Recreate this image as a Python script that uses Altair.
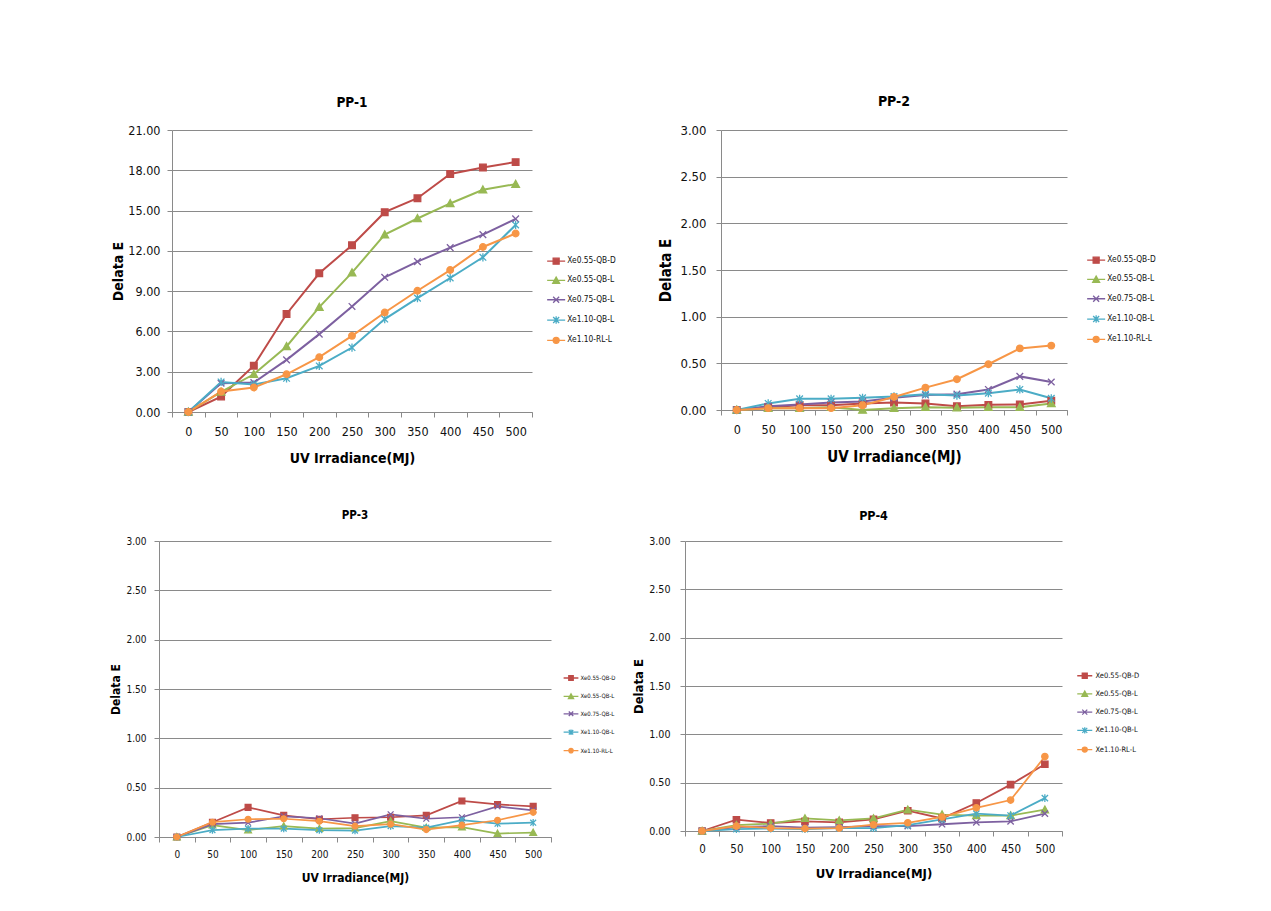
import altair as alt
import pandas as pd

X_VALUES = [0, 50, 100, 150, 200, 250, 300, 350, 400, 450, 500]
SERIES = ["Xe0.55-QB-D", "Xe0.55-QB-L", "Xe0.75-QB-L", "Xe1.10-QB-L", "Xe1.10-RL-L"]
COLORS = ["#BE4B48", "#98B954", "#7D60A0", "#4BACC6", "#F79646"]

# PP-1
PP1_D055 = [0, 1.15, 3.45, 7.3, 10.33, 12.42, 14.88, 15.92, 17.72, 18.21, 18.61]
PP1_L055 = [0, 1.5, 2.81, 4.88, 7.81, 10.38, 13.21, 14.41, 15.53, 16.55, 16.97]
PP1_L075 = [0, 2.14, 2.19, 3.88, 5.8, 7.86, 10.03, 11.2, 12.24, 13.21, 14.38]
PP1_QB110 = [0, 2.24, 2.05, 2.51, 3.43, 4.8, 6.92, 8.48, 9.98, 11.52, 13.93]
PP1_RL110 = [0, 1.52, 1.82, 2.81, 4.08, 5.67, 7.41, 9.03, 10.57, 12.29, 13.29]
# PP-2
PP2_D055 = [0, 0.03, 0.05, 0.05, 0.07, 0.08, 0.07, 0.04, 0.055, 0.06, 0.10]
PP2_L055 = [0, 0.02, 0.02, 0.03, 0.0, 0.02, 0.03, 0.025, 0.03, 0.03, 0.07]
PP2_L075 = [0, 0.04, 0.06, 0.08, 0.09, 0.13, 0.16, 0.17, 0.22, 0.36, 0.30]
PP2_QB110 = [0, 0.07, 0.12, 0.12, 0.13, 0.145, 0.17, 0.155, 0.18, 0.22, 0.125]
PP2_RL110 = [0, 0.02, 0.02, 0.02, 0.05, 0.14, 0.24, 0.33, 0.49, 0.66, 0.69]
# PP-3
PP3_D055 = [0, 0.15, 0.30, 0.22, 0.18, 0.195, 0.20, 0.22, 0.365, 0.33, 0.31]
PP3_L055 = [0, 0.12, 0.07, 0.11, 0.085, 0.09, 0.16, 0.095, 0.10, 0.035, 0.045]
PP3_L075 = [0, 0.13, 0.145, 0.21, 0.19, 0.135, 0.23, 0.185, 0.20, 0.31, 0.27]
PP3_QB110 = [0, 0.07, 0.085, 0.085, 0.07, 0.065, 0.11, 0.095, 0.17, 0.135, 0.145]
PP3_RL110 = [0, 0.15, 0.18, 0.185, 0.16, 0.11, 0.13, 0.075, 0.12, 0.17, 0.25]
# PP-4
PP4_D055 = [0, 0.117, 0.083, 0.10, 0.09, 0.12, 0.21, 0.13, 0.29, 0.48, 0.69]
PP4_L055 = [0, 0.06, 0.076, 0.13, 0.11, 0.13, 0.22, 0.17, 0.16, 0.16, 0.22]
PP4_L075 = [0, 0.04, 0.05, 0.035, 0.04, 0.05, 0.05, 0.07, 0.09, 0.10, 0.18]
PP4_QB110 = [0, 0.02, 0.025, 0.02, 0.03, 0.03, 0.06, 0.12, 0.18, 0.16, 0.34]
PP4_RL110 = [0, 0.05, 0.03, 0.025, 0.03, 0.065, 0.085, 0.145, 0.24, 0.32, 0.77]

Y_TICKS_PP1 = [0, 3, 6, 9, 12, 15, 18, 21]
Y_TICKS_SMALL = [0, 0.5, 1.0, 1.5, 2.0, 2.5, 3.0]

FONT = "DejaVu Sans Condensed, Liberation Sans Narrow, Roboto, sans-serif"
GRID = "#8a8a8a"

MARKERS = [
    "M-1,-1L1,-1L1,1L-1,1Z",
    "M0,-1.15L1.15,0.95L-1.15,0.95Z",
    "M-1,-1L1,1M-1,1L1,-1",
    "M-1,-1L1,1M-1,1L1,-1M0,-1.25L0,1.25",
    "M1,0A1,1,0,1,1,-1,0A1,1,0,1,1,1,0Z",
]


def legend_paths(half):
    line = "M-%s,0L%s,0" % (half, half)
    return [line + m for m in MARKERS]


def panel(title, values, y_ticks, w, h, cfg):
    rows = []
    for s, arr in zip(SERIES, values):
        for i, (xv, yv) in enumerate(zip(X_VALUES, arr)):
            rows.append({"x": str(xv), "xi": i, "y": yv, "series": s})
    df = pd.DataFrame(rows)

    xenc = alt.X(
        "x:O",
        sort=[str(v) for v in X_VALUES],
        scale=alt.Scale(type="band", paddingInner=0, paddingOuter=0),
        axis=alt.Axis(
            title="UV Irradiance(MJ)", labelAngle=0, tickBand="extent", grid=False,
            domainColor=GRID, tickColor=GRID, tickSize=5, labelFont=FONT,
            labelFontSize=cfg["xfs"], labelColor="#111111", labelPadding=cfg["xlp"],
            titleFont=FONT, titleFontSize=cfg["tfs"], titleFontWeight="bold",
            titleColor="#000000", titlePadding=cfg["xtp"],
        ),
    )
    yenc = alt.Y(
        "y:Q",
        scale=alt.Scale(domain=[y_ticks[0], y_ticks[-1]], nice=False, zero=True),
        axis=alt.Axis(
            title="Delata E", values=y_ticks, format=".2f", grid=True, gridColor=GRID,
            domainColor=GRID, tickColor=GRID, tickSize=5, labelFont=FONT,
            labelFontSize=cfg["yfs"], labelColor="#111111", labelPadding=cfg["ylp"],
            titleFont=FONT, titleFontSize=cfg["tfs"], titleFontWeight="bold",
            titleColor="#000000", titlePadding=cfg["ytp"],
        ),
    )
    cscale = alt.Scale(domain=SERIES, range=COLORS)

    lines = alt.Chart(df).mark_line(strokeWidth=cfg["lw"]).encode(
        x=xenc, y=yenc,
        color=alt.Color("series:N", scale=cscale, legend=None),
        order=alt.Order("xi:Q"),
    )
    points = alt.Chart(df).mark_point(
        filled=True, size=cfg["ms"], strokeWidth=1.3, opacity=1
    ).encode(
        x=xenc, y=yenc,
        fill=alt.Fill("series:N", scale=cscale, legend=None),
        stroke=alt.Stroke("series:N", scale=cscale, legend=None),
        shape=alt.Shape("series:N", scale=alt.Scale(domain=SERIES, range=MARKERS), legend=None),
    )
    leg = alt.Legend(
        title=None, orient="none", legendX=cfg["lx"], legendY=cfg["ly"],
        symbolSize=cfg["ss"], symbolStrokeWidth=1.3, labelFont=FONT,
        labelFontSize=cfg["gfs"], labelColor="#111111", labelOffset=cfg["lo"],
        rowPadding=cfg["rp"], padding=0,
    )
    legend_layer = alt.Chart(df).transform_filter("false").mark_point(
        filled=True, opacity=1
    ).encode(
        x=xenc, y=yenc,
        fill=alt.Fill("series:N", scale=cscale, legend=leg),
        stroke=alt.Stroke("series:N", scale=cscale, legend=leg),
        shape=alt.Shape("series:N", scale=alt.Scale(domain=SERIES, range=legend_paths(cfg["lh"])), legend=leg),
    )
    return alt.layer(lines, points, legend_layer).resolve_scale(
        shape="independent", fill="independent", stroke="independent"
    ).properties(
        width=w, height=h,
        title=alt.TitleParams(title, font=FONT, fontSize=cfg["hfs"], fontWeight="bold",
                              color="#000000", offset=cfg["to"]),
    )


def spacer(w):
    return alt.Chart(pd.DataFrame({"v": [""]})).mark_text().encode(text="v:N").properties(
        width=w, height=10
    )


big = dict(xfs=12.5, yfs=12.5, tfs=14, hfs=13.5, xlp=8, xtp=14, ylp=7, ytp=2, lw=2, ms=44,
           ss=36, lh=3, gfs=8.3, lo=7, rp=7.3, to=15)

p1 = panel("PP-1", [PP1_D055, PP1_L055, PP1_L075, PP1_QB110, PP1_RL110], Y_TICKS_PP1,
           360, 282, dict(big, lx=380, ly=127))
p2 = panel("PP-2", [PP2_D055, PP2_L055, PP2_L075, PP2_QB110, PP2_RL110], Y_TICKS_SMALL,
           346, 280, dict(big, yfs=13, tfs=15, hfs=14, ylp=10, ytp=6, lx=371, ly=126))
p3 = panel("PP-3", [PP3_D055, PP3_L055, PP3_L075, PP3_QB110, PP3_RL110], Y_TICKS_SMALL,
           392, 296, dict(xfs=10, yfs=10, tfs=12, hfs=11.5, xlp=7, xtp=13, ylp=8, ytp=3, lw=1.7, ms=34,
                          ss=20, lh=3.3, gfs=6, lo=6.5, rp=7.4, to=15, lx=409, ly=134))
p4 = panel("PP-4", [PP4_D055, PP4_L055, PP4_L075, PP4_QB110, PP4_RL110], Y_TICKS_SMALL,
           377, 290, dict(xfs=11.5, yfs=10.6, tfs=13, hfs=12.5, xlp=7, xtp=13, ylp=10, ytp=3.5, lw=1.8, ms=40,
                          ss=25, lh=3, gfs=7.5, lo=7, rp=7.2, to=14, lx=396, ly=131))

ind = dict(x="independent", y="independent", fill="independent", stroke="independent",
           shape="independent", color="independent")
row1 = alt.hconcat(spacer(3), p1, p2, spacing=42).resolve_scale(**ind)
row2 = alt.hconcat(spacer(27), p3, p4, spacing=16).resolve_scale(**ind)
chart = alt.vconcat(row1, row2, spacing=43).resolve_scale(**ind).properties(
    padding={"left": 58, "top": 87, "right": 5, "bottom": 5},
    background="white",
).configure_view(stroke=None)

chart.save("out.html", embed_options={"renderer": "svg", "actions": False})
